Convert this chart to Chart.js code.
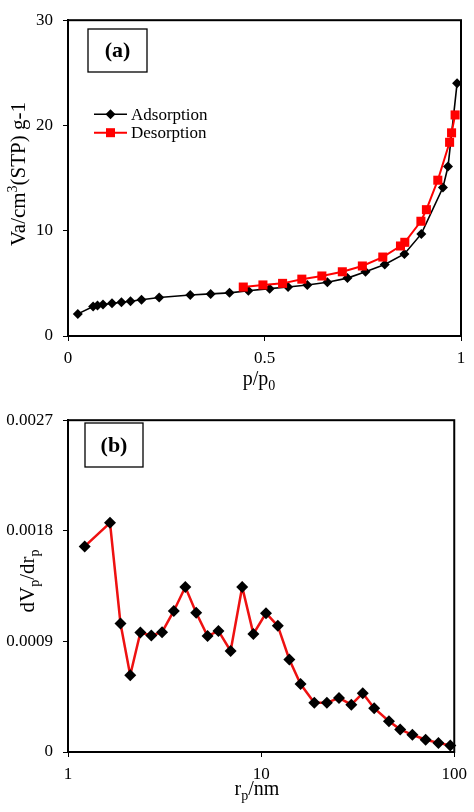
<!DOCTYPE html>
<html>
<head>
<meta charset="utf-8">
<script src="https://cdn.jsdelivr.net/npm/chart.js@4.4.1/dist/chart.umd.min.js"></script>
<style>
  html, body { margin: 0; padding: 0; background: #fff; }
  #wrap { position: relative; width: 474px; height: 812px; }
  canvas { position: absolute; left: 0; }
</style>
</head>
<body>
<div id="wrap">
  <canvas id="chartA" width="474" height="400" style="top:0"></canvas>
  <canvas id="chartB" width="474" height="412" style="top:400px"></canvas>
</div>
<script>
// (a) isotherm
const adsP = [0.025, 0.064, 0.075, 0.089, 0.112, 0.136, 0.159, 0.187, 0.232, 0.311, 0.363, 0.411, 0.459,
  0.513, 0.560, 0.609, 0.660, 0.711, 0.757, 0.806, 0.856, 0.899, 0.954, 0.967, 0.990];
const adsV = [2.1, 2.8, 2.9, 3.0, 3.1, 3.2, 3.3, 3.45, 3.65, 3.9, 4.0, 4.1, 4.3,
  4.5, 4.65, 4.85, 5.1, 5.5, 6.1, 6.8, 7.8, 9.7, 14.1, 16.1, 24.0];
const desP = [0.446, 0.496, 0.546, 0.595, 0.646, 0.698, 0.749, 0.801, 0.846, 0.857, 0.898, 0.912,
  0.941, 0.971, 0.976, 0.985];
const desV = [4.65, 4.85, 5.0, 5.4, 5.7, 6.1, 6.65, 7.5, 8.55, 8.9, 10.9, 12.0,
  14.8, 18.4, 19.3, 21.0];
const ticksAX = [0, 0.5, 1];
const labelsAX = ['0', '0.5', '1'];
const ticksAY = [0, 10, 20, 30];
const labelsAY = ['0', '10', '20', '30'];

// (b) pore size distribution
const rp = [1.22, 1.65, 1.87, 2.10, 2.37, 2.70, 3.07, 3.53, 4.05, 4.61, 5.28, 6.01, 6.95, 7.98, 9.12,
  10.6, 12.2, 14.0, 16.0, 18.85, 21.9, 25.3, 29.3, 33.6, 38.5, 45.9, 52.5, 60.7, 71.1, 82.8, 95.4];
const dvdr = [0.001673, 0.001865, 0.001046, 0.000624, 0.000972, 0.000948, 0.000975, 0.001148, 0.001343,
  0.001133, 0.000943, 0.000985, 0.000822, 0.001343, 0.000961, 0.00113, 0.001027, 0.000753, 0.000553,
  0.0004, 0.0004, 0.00044, 0.000385, 0.000479, 0.000356, 0.00025, 0.000184, 0.00014, 0.0001, 0.000074, 0.000053];
const ticksBX = [1, 10, 100];
const labelsBX = ['1', '10', '100'];
const ticksBY = [0, 0.0009, 0.0018, 0.0027];
const labelsBY = ['0', '0.0009', '0.0018', '0.0027'];

const FONT = '"Liberation Serif", "Times New Roman", serif';

// text with sub / superscripts, centred on (x, y)
function richText(ctx, parts, x, y, size, rotate) {
  ctx.save();
  ctx.translate(x, y);
  if (rotate) ctx.rotate(-Math.PI / 2);
  const small = Math.round(size * 0.68);
  let total = 0;
  parts.forEach(p => {
    ctx.font = (p.sub || p.sup ? small : size) + 'px ' + FONT;
    p.w = ctx.measureText(p.t).width;
    total += p.w;
  });
  let cx = -total / 2;
  ctx.fillStyle = '#000';
  ctx.textBaseline = 'alphabetic';
  ctx.textAlign = 'left';
  parts.forEach(p => {
    ctx.font = (p.sub || p.sup ? small : size) + 'px ' + FONT;
    const dy = p.sub ? size * 0.25 : (p.sup ? -size * 0.38 : 0);
    ctx.fillText(p.t, cx, size * 0.33 + dy);
    cx += p.w;
  });
  ctx.restore();
}

function diamond(ctx, x, y, r) {
  ctx.beginPath();
  ctx.moveTo(x, y - r); ctx.lineTo(x + r, y); ctx.lineTo(x, y + r); ctx.lineTo(x - r, y);
  ctx.closePath(); ctx.fill();
}

// frame, panel label box, titles, legend
function decorPlugin(opts) {
  return {
    id: 'decor',
    beforeDatasetsDraw(chart) {
      const { ctx, chartArea: a } = chart;
      ctx.save();
      ctx.strokeStyle = '#000';
      ctx.lineWidth = 2;
      ctx.strokeRect(a.left, a.top, a.right - a.left, a.bottom - a.top);
      ctx.restore();
    },
    afterDraw(chart) {
      const ctx = chart.ctx;
      ctx.save();
      const b = opts.box;
      ctx.strokeStyle = '#000';
      ctx.lineWidth = 1.3;
      ctx.strokeRect(b.x, b.y, b.w, b.h);
      ctx.fillStyle = '#000';
      ctx.font = 'bold 22px ' + FONT;
      ctx.textAlign = 'center';
      ctx.textBaseline = 'middle';
      ctx.fillText(opts.label, b.x + b.w / 2, b.y + b.h / 2 + 1);
      ctx.restore();
      richText(ctx, opts.xTitle.parts, opts.xTitle.x, opts.xTitle.y, opts.xTitle.size, false);
      richText(ctx, opts.yTitle.parts, opts.yTitle.x, opts.yTitle.y, opts.yTitle.size, true);
      if (opts.legend) {
        ctx.save();
        ctx.font = '17px ' + FONT;
        ctx.textBaseline = 'middle';
        ctx.textAlign = 'left';
        opts.legend.forEach(l => {
          ctx.strokeStyle = l.color;
          ctx.lineWidth = l.lw;
          ctx.beginPath(); ctx.moveTo(94, l.y); ctx.lineTo(127, l.y); ctx.stroke();
          ctx.fillStyle = l.color;
          if (l.shape === 'diamond') diamond(ctx, 110.5, l.y, 5);
          else ctx.fillRect(106, l.y - 4.5, 9, 9);
          ctx.fillStyle = '#000';
          ctx.fillText(l.text, 131, l.y + 1);
        });
        ctx.restore();
      }
    }
  };
}

const tickFont = { family: FONT, size: 17 };
const axisGrid = { display: true, drawOnChartArea: false, drawTicks: true, tickLength: 5, color: '#000', lineWidth: 1 };
const axisBorder = { display: true, color: '#000', width: 2 };

new Chart(document.getElementById('chartA'), {
  type: 'scatter',
  data: {
    datasets: [{
      label: 'Desorption',
      data: desP.map((p, i) => ({ x: p, y: desV[i] })),
      showLine: true,
      borderColor: '#ff0000',
      borderWidth: 2,
      backgroundColor: '#ff0000',
      pointStyle: 'rect',
      pointRadius: 6.4,
      pointBorderWidth: 0,
      clip: false
    }, {
      label: 'Adsorption',
      data: adsP.map((p, i) => ({ x: p, y: adsV[i] })),
      showLine: true,
      borderColor: '#000',
      borderWidth: 1.6,
      backgroundColor: '#000',
      pointStyle: 'rectRot',
      pointRadius: 5,
      pointBorderWidth: 0,
      clip: false
    }]
  },
  options: {
    responsive: false,
    animation: false,
    layout: { padding: { top: 11, right: 13, left: 0, bottom: 0 } },
    plugins: { legend: { display: false }, tooltip: { enabled: false } },
    scales: {
      x: {
        type: 'linear', min: 0, max: 1,
        afterBuildTicks: s => { s.ticks = ticksAX.map(v => ({ value: v })); },
        afterFit: s => { s.height = 64; },
        ticks: { font: tickFont, color: '#000', padding: 7, maxRotation: 0, callback: (v, i) => labelsAX[i] },
        grid: axisGrid, border: axisBorder
      },
      y: {
        type: 'linear', min: 0, max: 30,
        afterBuildTicks: s => { s.ticks = ticksAY.map(v => ({ value: v })); },
        afterFit: s => { s.width = 68; },
        ticks: { font: tickFont, color: '#000', padding: 10, callback: (v, i) => labelsAY[i] },
        grid: axisGrid, border: axisBorder
      }
    }
  },
  plugins: [decorPlugin({
    box: { x: 88, y: 29, w: 59, h: 43 },
    label: '(a)',
    xTitle: { parts: [{ t: 'p/p' }, { t: '0', sub: true }], x: 259, y: 378, size: 20 },
    yTitle: { parts: [{ t: 'Va/cm' }, { t: '3', sup: true }, { t: '(STP) g-1' }], x: 18, y: 174, size: 21 },
    legend: [
      { text: 'Adsorption', y: 114.3, color: '#000', lw: 1.6, shape: 'diamond' },
      { text: 'Desorption', y: 132.7, color: '#ff0000', lw: 2, shape: 'square' }
    ]
  })]
});

new Chart(document.getElementById('chartB'), {
  type: 'scatter',
  data: {
    datasets: [{
      label: 'dVp/drp',
      data: rp.map((r, i) => ({ x: r, y: dvdr[i] })),
      showLine: true,
      borderColor: '#ee1111',
      borderWidth: 2.5,
      backgroundColor: '#000',
      pointBackgroundColor: '#000',
      pointStyle: 'rectRot',
      pointRadius: 6,
      pointBorderWidth: 0,
      clip: false
    }]
  },
  options: {
    responsive: false,
    animation: false,
    layout: { padding: { top: 10, right: 15, left: 0, bottom: 0 } },
    plugins: { legend: { display: false }, tooltip: { enabled: false } },
    scales: {
      x: {
        type: 'logarithmic', min: 1, max: 100,
        afterBuildTicks: s => { s.ticks = ticksBX.map(v => ({ value: v })); },
        afterFit: s => { s.height = 60; },
        ticks: { font: tickFont, color: '#000', padding: 7, maxRotation: 0, autoSkip: false, callback: (v, i) => labelsBX[i] },
        grid: axisGrid, border: axisBorder
      },
      y: {
        type: 'linear', min: 0, max: 0.0027,
        afterBuildTicks: s => { s.ticks = ticksBY.map(v => ({ value: v })); },
        afterFit: s => { s.width = 68; },
        ticks: { font: tickFont, color: '#000', padding: 10, callback: (v, i) => labelsBY[i] },
        grid: axisGrid, border: axisBorder
      }
    }
  },
  plugins: [decorPlugin({
    box: { x: 85, y: 23, w: 58, h: 44 },
    label: '(b)',
    xTitle: { parts: [{ t: 'r' }, { t: 'p', sub: true }, { t: '/nm' }], x: 257, y: 388, size: 20 },
    yTitle: { parts: [{ t: 'dV' }, { t: 'p', sub: true }, { t: '/dr' }, { t: 'p', sub: true }], x: 27, y: 181, size: 21 }
  })]
});
</script>
</body>
</html>
